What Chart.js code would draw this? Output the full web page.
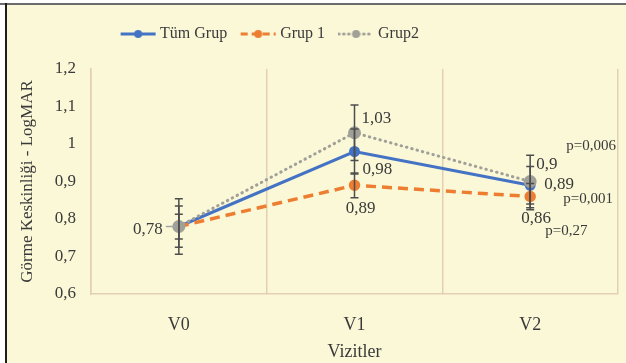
<!DOCTYPE html>
<html>
<head>
<meta charset="utf-8">
<script src="https://cdn.jsdelivr.net/npm/chart.js@4.4.1/dist/chart.umd.min.js"></script>
<style>
  html, body { margin: 0; padding: 0; background: #fff; }
  #wrap { position: relative; width: 626px; height: 363px; }
</style>
</head>
<body>
<div id="wrap"><canvas id="visitChart"></canvas></div>
<script>
var visits = ['V0', 'V1', 'V2'];
var tumGrup = [0.78, 0.98, 0.89];
var grup1 = [0.78, 0.89, 0.86];
var grup2 = [0.78, 1.03, 0.9];
var tumErr = [0.033, 0.06, 0.05];
var grup1Err = [0.055, 0.033, 0.035];
var grup2Err = [0.074, 0.074, 0.07];
var pValues = ['p=0,001', 'p=0,27', 'p=0,006'];
var yTicks = [0.6, 0.7, 0.8, 0.9, 1, 1.1, 1.2];

var FONT = '"Liberation Serif", "Times New Roman", serif';
var TEXT = '#3a3a3a';
var GRID = '#e3cfb3';

function fmt(v) {
    return String(Number(v.toFixed(2))).replace('.', ',');
}

function legendIcon(color, dash, cap) {
    var c = document.createElement('canvas');
    c.width = 37; c.height = 12;
    var g = c.getContext('2d');
    g.strokeStyle = color;
    g.lineWidth = 3;
    g.lineCap = cap;
    g.setLineDash(dash);
    g.beginPath(); g.moveTo(1, 6); g.lineTo(36, 6); g.stroke();
    g.setLineDash([]);
    g.fillStyle = color;
    g.beginPath(); g.arc(18.5, 6, 4, 0, Math.PI * 2); g.fill();
    return c;
}

// label placement per dataset / point: [dx, dy, align] or null
var labelPos = [
    [[-16, 3, 'right'], [8, 18, 'left'], [14, -1, 'left']],
    [null, [6, 23, 'center'], [6, 22, 'center']],
    [null, [7, -14, 'left'], [6, -17, 'left']]
];
var pPos = [[33, 14], [15, 35], [36, -35]];

var background = {
    id: 'background',
    beforeDraw: function (chart) {
        var ctx = chart.ctx;
        ctx.save();
        ctx.fillStyle = '#ffffff';
        ctx.fillRect(0, 0, chart.width, chart.height);
        ctx.fillStyle = '#fbf8d7';
        ctx.fillRect(7, 5, chart.width - 7, chart.height - 5);
        ctx.fillStyle = '#6b6b6b';
        ctx.fillRect(0, 3, chart.width, 2);
        ctx.fillStyle = '#1e1e1e';
        ctx.fillRect(5, 3, 2, chart.height - 3);
        ctx.restore();
    }
};

var legendSpacer = {
    id: 'legendSpacer',
    beforeInit: function (chart) {
        var fit = chart.legend.fit;
        chart.legend.fit = function () {
            fit.bind(chart.legend)();
            this.height += 17;
        };
    },
    afterLayout: function (chart) {
        // the legend in the original sits left of centre
        chart.legend.right -= 86;
        chart.legend.width -= 86;
    }
};

var errorBars = {
    id: 'errorBars',
    afterDatasetsDraw: function (chart) {
        var ctx = chart.ctx, xs = chart.scales.x, ys = chart.scales.y;
        ctx.save();
        ctx.strokeStyle = '#4d4d4d';
        ctx.lineWidth = 1.5;
        chart.data.datasets.forEach(function (ds) {
            ds.errors.forEach(function (e, j) {
                var px = xs.getPixelForValue(j);
                var t = ys.getPixelForValue(ds.data[j] + e);
                var b = ys.getPixelForValue(ds.data[j] - e);
                ctx.beginPath();
                ctx.moveTo(px, t); ctx.lineTo(px, b);
                ctx.moveTo(px - 4, t); ctx.lineTo(px + 4, t);
                ctx.moveTo(px - 4, b); ctx.lineTo(px + 4, b);
                ctx.stroke();
            });
        });
        ctx.restore();
    }
};

var valueLabels = {
    id: 'valueLabels',
    afterDatasetsDraw: function (chart) {
        var ctx = chart.ctx, xs = chart.scales.x, ys = chart.scales.y;
        ctx.save();
        ctx.fillStyle = TEXT;
        ctx.textBaseline = 'middle';
        chart.data.datasets.forEach(function (ds, i) {
            ds.data.forEach(function (v, j) {
                var p = labelPos[i][j];
                if (!p) return;
                var px = xs.getPixelForValue(j), py = ys.getPixelForValue(v);
                ctx.font = '17px ' + FONT;
                ctx.textAlign = p[2];
                ctx.fillText(fmt(v), px + p[0], py + p[1]);
                if (i === 0 && j === 0) {
                    ctx.strokeStyle = '#a5a5a5';
                    ctx.lineWidth = 1.5;
                    ctx.beginPath(); ctx.moveTo(px - 13, py); ctx.lineTo(px - 4, py); ctx.stroke();
                }
            });
            var last = ds.data.length - 1;
            var qx = xs.getPixelForValue(last), qy = ys.getPixelForValue(ds.data[last]);
            ctx.font = '15px ' + FONT;
            ctx.textAlign = 'left';
            ctx.fillText(pValues[i], qx + pPos[i][0], qy + pPos[i][1]);
        });
        ctx.restore();
    }
};

var icons = [
    legendIcon('#4472c4', [], 'butt'),
    legendIcon('#ed7d31', [7, 4], 'butt'),
    legendIcon('#a0a098', [0.5, 4.5], 'round')
];

var ctx = document.getElementById('visitChart').getContext('2d');
var visitChart = new Chart(ctx, {
    type: 'line',
    data: {
        labels: visits,
        datasets: [{
            label: 'Tüm Grup',
            data: tumGrup,
            errors: tumErr,
            borderColor: '#4472c4',
            backgroundColor: '#4472c4',
            borderWidth: 3,
            pointRadius: 4,
            order: 3,
            tension: 0
        }, {
            label: 'Grup 1',
            data: grup1,
            errors: grup1Err,
            borderColor: '#ed7d31',
            backgroundColor: '#ed7d31',
            borderWidth: 3.5,
            borderDash: [10, 6],
            pointRadius: 4,
            order: 2,
            tension: 0
        }, {
            label: 'Grup2',
            data: grup2,
            errors: grup2Err,
            borderColor: '#a0a098',
            backgroundColor: '#a0a098',
            borderWidth: 3,
            borderDash: [0.5, 5],
            borderCapStyle: 'round',
            pointRadius: 5,
            order: 1,
            tension: 0
        }]
    },
    options: {
        responsive: true,
        maintainAspectRatio: false,
        animation: false,
        layout: { padding: { left: 8, top: 9, right: 5, bottom: 0 } },
        plugins: {
            tooltip: { enabled: false },
            legend: {
                position: 'top',
                labels: {
                    usePointStyle: true,
                    pointStyleWidth: 28,
                    padding: 17,
                    color: TEXT,
                    font: { family: FONT, size: 16 },
                    generateLabels: function (chart) {
                        return chart.data.datasets.map(function (ds, i) {
                            return {
                                text: ds.label,
                                pointStyle: icons[i],
                                fillStyle: ds.borderColor,
                                strokeStyle: ds.borderColor,
                                lineWidth: 0,
                                fontColor: TEXT,
                                hidden: false,
                                datasetIndex: i
                            };
                        });
                    }
                }
            }
        },
        scales: {
            x: {
                offset: true,
                afterFit: function (s) { s.height = 69; },
                grid: { offset: true, color: GRID, lineWidth: 1.5, drawTicks: false },
                border: { display: true, color: GRID, width: 1.5 },
                ticks: { color: TEXT, padding: 20, font: { family: FONT, size: 18 } },
                title: {
                    display: true,
                    text: 'Vizitler',
                    color: TEXT,
                    padding: { top: 4, bottom: 0 },
                    font: { family: FONT, size: 18 }
                }
            },
            y: {
                min: 0.6,
                max: 1.2,
                afterFit: function (s) { s.width = 83; },
                afterBuildTicks: function (s) {
                    s.ticks = yTicks.map(function (v) { return { value: v }; });
                },
                grid: { display: false, drawTicks: false },
                border: { display: true, color: GRID, width: 1.5 },
                ticks: {
                    color: TEXT,
                    padding: 15,
                    font: { family: FONT, size: 17 },
                    callback: function (v) { return fmt(v); }
                },
                title: {
                    display: true,
                    text: 'Görme Keskinliği - LogMAR',
                    color: TEXT,
                    padding: { top: 9, bottom: 0 },
                    font: { family: FONT, size: 17 }
                }
            }
        }
    },
    plugins: [background, legendSpacer, errorBars, valueLabels]
});
</script>
</body>
</html>
